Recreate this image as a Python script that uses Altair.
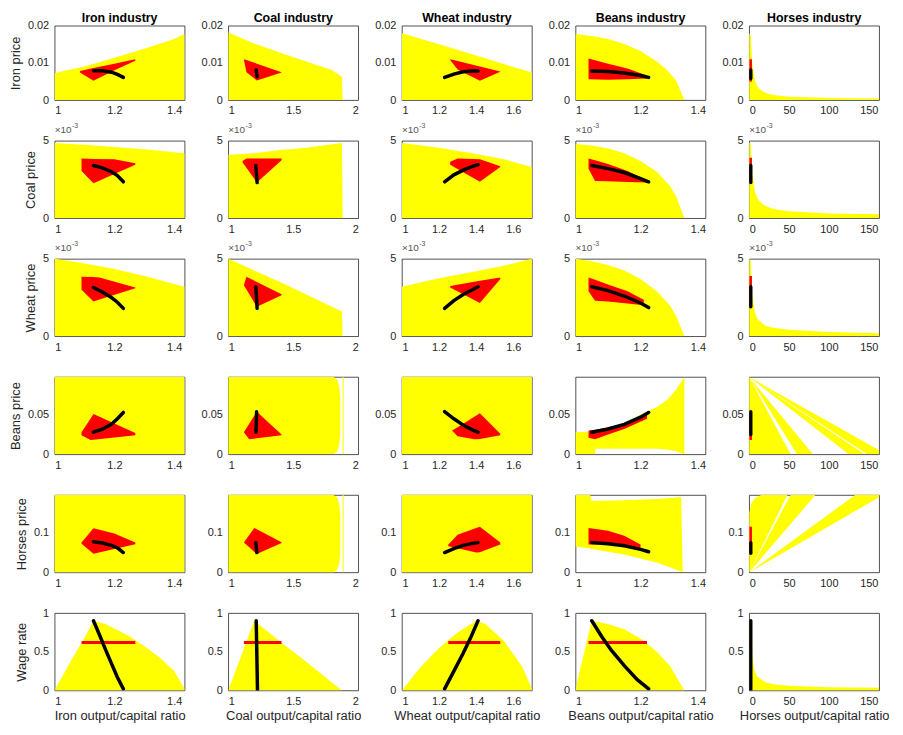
import altair as alt
import pandas as pd

FONT = "Liberation Sans"
YELLOW = "#FFFF00"
RED = "#FF0000"
BLACK = "#000000"

COL_TITLES = ["Iron industry", "Coal industry", "Wheat industry", "Beans industry", "Horses industry"]
ROW_TITLES = ["Iron price", "Coal price", "Wheat price", "Beans price", "Horses price", "Wage rate"]
X_TITLES = ["Iron output/capital ratio", "Coal output/capital ratio", "Wheat output/capital ratio",
            "Beans output/capital ratio", "Horses output/capital ratio"]
X_DOMAINS = [[1, 1.435], [1, 2], [1, 1.7], [1, 1.4], [0, 163]]
X_TICKS = [[1, 1.2, 1.4], [1, 1.5, 2], [1, 1.2, 1.4, 1.6], [1, 1.2, 1.4], [0, 50, 100, 150]]
# rows 2 and 3 are in units of 1e-3 (axis shows x10^-3)
Y_DOMAINS = [[0, 0.02], [0, 5], [0, 5], [0, 0.098], [0, 0.195], [0, 1]]
Y_TICKS = [[0, 0.01, 0.02], [0, 5], [0, 5], [0, 0.05], [0, 0.1], [0, 0.5, 1]]
EXP_ROWS = [1, 2]

# ---- Row 1: Iron price ----  areas: (x, upper, lower); lines: (x, y)
Y11 = [[(1, 0.0073, 0), (1.1, 0.0090, 0), (1.2, 0.0114, 0), (1.3, 0.0138, 0), (1.4, 0.0164, 0), (1.435, 0.0178, 0)]]
R11 = [[(1.085, 0.0078, 0.0074), (1.13, 0.0086, 0.0052), (1.2, 0.0098, 0.0080), (1.27, 0.0110, 0.0106)]]
K11 = [(1.13, 0.0079), (1.16, 0.0079), (1.19, 0.0075), (1.21, 0.0069), (1.23, 0.0061)]

Y12 = [[(1, 0.0182, 0), (1.2, 0.0152, 0), (1.4, 0.0127, 0), (1.6, 0.0104, 0), (1.8, 0.0080, 0), (1.875, 0.0062, 0), (1.88, 0, 0)]]
R12 = [[(1.12, 0.0110, 0.0109), (1.14, 0.0108, 0.0075), (1.22, 0.0098, 0.0053), (1.41, 0.0075, 0.0074)]]
K12 = [(1.215, 0.0081), (1.218, 0.0072), (1.222, 0.0063)]

Y13 = [[(1, 0.0180, 0), (1.2, 0.0150, 0), (1.4, 0.0120, 0), (1.6, 0.0089, 0), (1.7, 0.0074, 0)]]
R13 = [[(1.26, 0.0110, 0.0108), (1.30, 0.0105, 0.0082), (1.42, 0.0090, 0.0052), (1.53, 0.0077, 0.0076)]]
K13 = [(1.23, 0.0061), (1.28, 0.0070), (1.33, 0.0076), (1.38, 0.0078), (1.41, 0.0078)]

Y14 = [[(1, 0.0178, 0), (1.05, 0.0172, 0), (1.1, 0.0164, 0), (1.15, 0.0151, 0), (1.2, 0.0132, 0),
        (1.25, 0.0104, 0), (1.28, 0.0082, 0), (1.31, 0.0052, 0), (1.335, 0.0, 0)]]
R14 = [[(1.04, 0.0112, 0.0056), (1.1, 0.0098, 0.0055), (1.16, 0.0085, 0.0056), (1.22, 0.0066, 0.0058)]]
K14 = [(1.05, 0.0078), (1.1, 0.0077), (1.15, 0.0073), (1.2, 0.0066), (1.225, 0.0061)]

Y15 = [[(0, 0.0180, 0), (2, 0.0175, 0), (4, 0.0095, 0), (7, 0.0055, 0), (10, 0.0038, 0), (15, 0.0026, 0),
        (20, 0.0020, 0), (30, 0.0014, 0), (50, 0.0009, 0), (80, 0.0007, 0), (120, 0.0005, 0), (163, 0.0004, 0)]]
R15 = [[(0.3, 0.011, 0.005), (3.5, 0.011, 0.005)]]
K15 = [(2, 0.0081), (2, 0.0058)]

# ---- Row 2: Coal price (x1e-3) ----
Y21 = [[(1, 4.85, 0), (1.1, 4.75, 0), (1.2, 4.6, 0), (1.3, 4.45, 0), (1.435, 4.2, 0)]]
R21 = [[(1.09, 3.85, 3.05), (1.13, 3.83, 2.25), (1.2, 3.8, 2.85), (1.27, 3.55, 3.45)]]
K21 = [(1.13, 3.4), (1.16, 3.25), (1.19, 3.0), (1.21, 2.75), (1.23, 2.35)]

Y22 = [[(1, 4.1, 0), (1.2, 4.2, 0), (1.4, 4.4, 0), (1.6, 4.55, 0), (1.875, 4.85, 0), (1.88, 0, 0)]]
R22 = [[(1.11, 3.7, 3.6), (1.14, 3.85, 3.25), (1.22, 3.85, 2.3), (1.41, 3.85, 3.75)]]
K22 = [(1.212, 3.4), (1.217, 2.85), (1.222, 2.3)]

Y23 = [[(1, 4.85, 0), (1.2, 4.55, 0), (1.4, 4.15, 0), (1.55, 3.8, 0), (1.7, 3.3, 0)]]
R23 = [[(1.26, 3.65, 3.45), (1.3, 3.85, 3.18), (1.42, 3.8, 2.35), (1.53, 3.35, 3.3)]]
K23 = [(1.23, 2.35), (1.28, 2.8), (1.33, 3.1), (1.38, 3.35), (1.41, 3.45)]

Y24 = [[(1, 4.8, 0), (1.05, 4.7, 0), (1.1, 4.5, 0), (1.15, 4.2, 0), (1.2, 3.7, 0), (1.25, 3.0, 0),
        (1.29, 2.1, 0), (1.31, 1.4, 0), (1.335, 0, 0)]]
R24 = [[(1.04, 3.85, 3.2), (1.06, 3.75, 2.4), (1.1, 3.5, 2.38), (1.16, 3.05, 2.34), (1.22, 2.45, 2.3)]]
K24 = [(1.05, 3.4), (1.1, 3.2), (1.15, 2.95), (1.2, 2.55), (1.225, 2.35)]

Y25 = [[(0, 4.9, 0), (2, 4.8, 0), (4, 2.8, 0), (7, 1.8, 0), (10, 1.3, 0), (15, 1.0, 0), (20, 0.8, 0),
        (30, 0.6, 0), (50, 0.45, 0), (100, 0.3, 0), (163, 0.25, 0)]]
R25 = [[(0.3, 3.9, 2.3), (3.5, 3.9, 2.3)]]
K25 = [(2, 3.4), (2, 2.3)]

# ---- Row 3: Wheat price (x1e-3) ----
Y31 = [[(1, 5.0, 0), (1.1, 4.7, 0), (1.2, 4.35, 0), (1.3, 3.9, 0), (1.435, 3.2, 0)]]
R31 = [[(1.09, 3.85, 3.0), (1.13, 3.83, 2.25), (1.15, 3.8, 2.37), (1.27, 3.15, 3.1)]]
K31 = [(1.13, 3.15), (1.16, 2.85), (1.19, 2.5), (1.21, 2.2), (1.23, 1.8)]

Y32 = [[(1, 5.0, 0), (1.2, 4.25, 0), (1.44, 3.35, 0), (1.7, 2.3, 0), (1.875, 1.6, 0), (1.88, 0, 0)]]
R32 = [[(1.12, 3.3, 3.3), (1.14, 3.85, 3.02), (1.22, 3.51, 1.9), (1.41, 2.72, 2.65)]]
K32 = [(1.212, 3.2), (1.217, 2.5), (1.222, 1.8)]

Y33 = [[(1, 3.2, 0), (1.2, 3.75, 0), (1.4, 4.2, 0), (1.55, 4.55, 0), (1.7, 5.0, 0)]]
R33 = [[(1.26, 3.25, 3.15), (1.42, 3.58, 2.15), (1.53, 3.8, 3.7)]]
K33 = [(1.23, 1.8), (1.28, 2.3), (1.33, 2.7), (1.38, 3.0), (1.41, 3.2)]

Y34 = [[(1, 5.0, 0), (1.05, 4.85, 0), (1.1, 4.6, 0), (1.15, 4.25, 0), (1.2, 3.7, 0), (1.25, 2.9, 0),
        (1.29, 2.0, 0), (1.31, 1.3, 0), (1.335, 0, 0)]]
R34 = [[(1.04, 3.8, 2.9), (1.06, 3.65, 2.3), (1.1, 3.35, 2.25), (1.16, 2.9, 2.12), (1.21, 2.35, 2.0)]]
K34 = [(1.05, 3.2), (1.1, 2.95), (1.15, 2.6), (1.2, 2.15), (1.225, 1.85)]

Y35 = [[(0, 5.0, 0), (2, 4.9, 0), (4, 2.6, 0), (7, 1.6, 0), (10, 1.15, 0), (15, 0.9, 0), (20, 0.7, 0),
        (30, 0.55, 0), (50, 0.42, 0), (100, 0.28, 0), (163, 0.2, 0)]]
R35 = [[(0.3, 3.9, 1.9), (3.5, 3.9, 1.9)]]
K35 = [(2, 3.2), (2, 1.9)]

# ---- Row 4: Beans price ----
Y41 = [[(1, 0.098, 0), (1.435, 0.098, 0)]]
R41 = [[(1.09, 0.028, 0.024), (1.12, 0.045, 0.018), (1.13, 0.051, 0.0184), (1.27, 0.027, 0.024)]]
K41 = [(1.13, 0.028), (1.16, 0.032), (1.19, 0.038), (1.21, 0.045), (1.23, 0.053)]

Y42 = [[(1, 0.098, 0), (1.81, 0.098, 0), (1.84, 0.094, 0.004), (1.855, 0.085, 0.013), (1.862, 0.07, 0.028)],
       [(1.88, 0.098, 0), (1.888, 0.098, 0)]]
R42 = [[(1.12, 0.028, 0.028), (1.16, 0.0384, 0.019), (1.22, 0.054, 0.0202), (1.41, 0.025, 0.024)]]
K42 = [(1.218, 0.054), (1.216, 0.04), (1.213, 0.028)]

Y43 = [[(1, 0.098, 0), (1.7, 0.098, 0)]]
R43 = [[(1.27, 0.030, 0.030), (1.30, 0.0344, 0.023), (1.39, 0.0476, 0.019), (1.42, 0.052, 0.0195), (1.53, 0.026, 0.024)]]
K43 = [(1.23, 0.054), (1.28, 0.045), (1.33, 0.037), (1.38, 0.031), (1.41, 0.028)]

Y44 = [[(1, 0.028, 0), (1.05, 0.029, 0), (1.06, 0.030, 0), (1.061, 0.0305, 0.007), (1.1, 0.033, 0.007),
        (1.15, 0.039, 0.007), (1.2, 0.050, 0.007), (1.25, 0.060, 0.007), (1.28, 0.068, 0.006),
        (1.31, 0.082, 0.004), (1.335, 0.098, 0)]]
R44 = [[(1.04, 0.030, 0.021), (1.06, 0.031, 0.019), (1.1, 0.034, 0.025), (1.15, 0.039, 0.032), (1.22, 0.051, 0.045)]]
K44 = [(1.05, 0.028), (1.1, 0.032), (1.15, 0.038), (1.2, 0.047), (1.225, 0.053)]

Y45 = [[(0, 0.098, 0), (52, 0, 0)],
       [(0, 0.098, 0.098), (60, 0.0245, 0), (80, 0, 0)],
       [(0, 0.098, 0.098), (125, 0.0135, 0), (145, 0, 0)],
       [(0, 0.098, 0.098), (148, 0.0137, 0), (172, 0, 0)]]
R45 = [[(0.3, 0.055, 0.018), (3.5, 0.055, 0.018)]]
K45 = [(2, 0.054), (2, 0.025)]

# ---- Row 5: Horses price ----
Y51 = [[(1, 0.195, 0), (1.435, 0.195, 0)]]
R51 = [[(1.09, 0.075, 0.072), (1.13, 0.111, 0.047), (1.2, 0.098, 0.059), (1.27, 0.075, 0.071)]]
K51 = [(1.13, 0.077), (1.16, 0.074), (1.19, 0.068), (1.21, 0.062), (1.23, 0.050)]

Y52 = [[(1, 0.195, 0), (1.81, 0.195, 0), (1.84, 0.188, 0.007), (1.855, 0.17, 0.025), (1.862, 0.14, 0.055)],
       [(1.88, 0.195, 0), (1.888, 0.195, 0)]]
R52 = [[(1.12, 0.075, 0.075), (1.2, 0.112, 0.0518), (1.22, 0.1086, 0.046), (1.41, 0.076, 0.074)]]
K52 = [(1.212, 0.075), (1.216, 0.062), (1.22, 0.050)]

Y53 = [[(1, 0.195, 0), (1.7, 0.195, 0)]]
R53 = [[(1.25, 0.070, 0.066), (1.3, 0.095, 0.0607), (1.4, 0.112, 0.050), (1.42, 0.115, 0.0508), (1.53, 0.075, 0.070)]]
K53 = [(1.23, 0.050), (1.28, 0.060), (1.33, 0.068), (1.38, 0.073), (1.41, 0.075)]

Y54 = [[(1, 0.195, 0.065), (1.045, 0.195, 0.060), (1.05, 0.180, 0.059), (1.15, 0.182, 0.045),
        (1.25, 0.185, 0.025), (1.3, 0.188, 0.010), (1.325, 0.190, 0.002), (1.33, 0.0, 0.0)]]
R54 = [[(1.04, 0.112, 0.070), (1.1, 0.105, 0.070), (1.15, 0.092, 0.066), (1.2, 0.070, 0.058)]]
K54 = [(1.05, 0.075), (1.1, 0.072), (1.15, 0.067), (1.2, 0.058), (1.225, 0.052)]

Y55 = [[(0, 0.150, 0), (3, 0.175, 0.0122), (8, 0.188, 0.0325), (15, 0.195, 0.0609), (48, 0.195, 0.195)],
       [(0, 0, 0), (52, 0.195, 0.1222), (83, 0.195, 0.195)],
       [(0, 0, 0), (133, 0.195, 0.1544), (168, 0.195, 0.195)]]
R55 = [[(0.3, 0.115, 0.050), (3.5, 0.115, 0.050)]]
K55 = [(2, 0.075), (2, 0.048)]

# ---- Row 6: Wage rate ----
Y61 = [[(1, 0.0, 0), (1.05, 0.35, 0), (1.1, 0.68, 0), (1.13, 0.9, 0), (1.17, 0.86, 0), (1.2, 0.80, 0),
        (1.25, 0.70, 0), (1.3, 0.57, 0), (1.35, 0.43, 0), (1.4, 0.25, 0), (1.435, 0.02, 0)]]
L61 = [(1.09, 0.62), (1.27, 0.62)]
K61 = [(1.13, 0.9), (1.15, 0.72), (1.17, 0.53), (1.19, 0.35), (1.21, 0.17), (1.23, 0.02)]

Y62 = [[(1, 0.0, 0), (1.1, 0.45, 0), (1.2, 0.9, 0), (1.4, 0.63, 0), (1.6, 0.37, 0), (1.8, 0.1, 0), (1.875, 0, 0)]]
L62 = [(1.12, 0.62), (1.41, 0.62)]
K62 = [(1.215, 0.9), (1.22, 0.45), (1.225, 0.0)]

Y63 = [[(1, 0, 0), (1.1, 0.3, 0), (1.2, 0.55, 0), (1.3, 0.75, 0), (1.4, 0.9, 0), (1.45, 0.86, 0),
        (1.55, 0.64, 0), (1.65, 0.3, 0), (1.7, 0.02, 0)]]
L63 = [(1.25, 0.62), (1.53, 0.62)]
K63 = [(1.23, 0.02), (1.28, 0.25), (1.33, 0.48), (1.37, 0.68), (1.41, 0.9)]

Y64 = [[(1, 0, 0), (1.01, 0.2, 0), (1.03, 0.55, 0), (1.05, 0.9, 0), (1.1, 0.86, 0), (1.15, 0.79, 0),
        (1.2, 0.67, 0), (1.25, 0.5, 0), (1.29, 0.32, 0), (1.335, 0, 0)]]
L64 = [(1.04, 0.62), (1.22, 0.62)]
K64 = [(1.05, 0.9), (1.08, 0.7), (1.11, 0.52), (1.15, 0.32), (1.19, 0.14), (1.225, 0.02)]

Y65 = [[(0, 0.9, 0), (3, 0.9, 0), (4, 0.45, 0), (6, 0.28, 0), (10, 0.18, 0), (20, 0.11, 0), (30, 0.08, 0),
        (50, 0.06, 0), (100, 0.04, 0), (163, 0.035, 0)]]
L65 = [(0.5, 0.62), (3.5, 0.62)]
K65 = [(2, 0.9), (2, 0.0)]

PANELS = [
    [(Y11, R11, None, K11), (Y12, R12, None, K12), (Y13, R13, None, K13), (Y14, R14, None, K14), (Y15, R15, None, K15)],
    [(Y21, R21, None, K21), (Y22, R22, None, K22), (Y23, R23, None, K23), (Y24, R24, None, K24), (Y25, R25, None, K25)],
    [(Y31, R31, None, K31), (Y32, R32, None, K32), (Y33, R33, None, K33), (Y34, R34, None, K34), (Y35, R35, None, K35)],
    [(Y41, R41, None, K41), (Y42, R42, None, K42), (Y43, R43, None, K43), (Y44, R44, None, K44), (Y45, R45, None, K45)],
    [(Y51, R51, None, K51), (Y52, R52, None, K52), (Y53, R53, None, K53), (Y54, R54, None, K54), (Y55, R55, None, K55)],
    [(Y61, None, L61, K61), (Y62, None, L62, K62), (Y63, None, L63, K63), (Y64, None, L64, K64), (Y65, None, L65, K65)],
]

PANEL_W = 131
ROW_H = [75, 78, 78, 78, 78, 78]


def area_df(polys):
    rows = []
    for g, poly in enumerate(polys):
        for i, (x, y, y2) in enumerate(poly):
            rows.append({"g": g, "i": i, "x": x, "y": y, "y2": y2})
    return pd.DataFrame(rows)


def line_df(pts):
    return pd.DataFrame([{"i": i, "x": x, "y": y} for i, (x, y) in enumerate(pts)])


def make_panel(r, c):
    yellow, red, redline, black = PANELS[r][c]
    xs = alt.Scale(domain=X_DOMAINS[c], nice=False, zero=False)
    ys = alt.Scale(domain=Y_DOMAINS[r], nice=False, zero=False)
    if r == 5:
        xax = alt.Axis(values=X_TICKS[c], format="~r", title=X_TITLES[c])
    else:
        xax = alt.Axis(values=X_TICKS[c], format="~r", title=None)
    if c == 0:
        yax = alt.Axis(values=Y_TICKS[r], format="~r", title=ROW_TITLES[r])
    else:
        yax = alt.Axis(values=Y_TICKS[r], format="~r", title=None)
    X = alt.X("x:Q", scale=xs, axis=xax)
    Y = alt.Y("y:Q", scale=ys, axis=yax)

    layers = [alt.Chart(area_df(yellow)).mark_area(color=YELLOW, clip=True, opacity=1)
              .encode(x=X, y=Y, y2="y2:Q", detail="g:N")]
    if red is not None:
        layers.append(alt.Chart(area_df(red)).mark_area(color=RED, clip=True, opacity=1)
                      .encode(x=X, y=Y, y2="y2:Q", detail="g:N"))
    if redline is not None:
        layers.append(alt.Chart(line_df(redline)).mark_line(color=RED, strokeWidth=3, clip=True)
                      .encode(x=X, y=Y, order="i:Q"))
    layers.append(alt.Chart(line_df(black)).mark_line(color=BLACK, strokeWidth=3.5, strokeCap="round", clip=True)
                  .encode(x=X, y=Y, order="i:Q"))
    if r in EXP_ROWS:
        layers.append(alt.Chart(pd.DataFrame({"t": ["\u00d710"]})).mark_text(
            align="left", baseline="alphabetic", fontSize=10, font=FONT, color="#555555")
            .encode(x=alt.value(0), y=alt.value(-8), text="t:N"))
        layers.append(alt.Chart(pd.DataFrame({"t": ["-3"]})).mark_text(
            align="left", baseline="alphabetic", fontSize=7, font=FONT, color="#555555")
            .encode(x=alt.value(17.5), y=alt.value(-13), text="t:N"))
    if r == 0:
        layers.append(alt.Chart(pd.DataFrame({"t": [COL_TITLES[c]]})).mark_text(
            align="center", baseline="alphabetic", fontSize=12.5, fontWeight="bold", font=FONT, color="black")
            .encode(x=alt.value(PANEL_W / 2), y=alt.value(-4), text="t:N"))
    return alt.layer(*layers).properties(width=PANEL_W, height=ROW_H[r])


panels = [make_panel(r, c) for r in range(6) for c in range(5)]

chart = alt.concat(*panels, columns=5, spacing={"row": 41, "column": 44}, bounds="flush").properties(
    padding={"left": 1, "top": 0, "right": 5, "bottom": 0}
).configure_view(
    stroke="#262626", strokeWidth=0.8
).configure_axis(
    grid=False, domain=False, ticks=False,
    labelFont=FONT, labelFontSize=11, labelColor="#262626",
    titleFont=FONT, titleFontSize=13, titleFontWeight="normal", titleColor="#262626"
).configure_axisY(
    labelPadding=6, titlePadding=5
).configure_axisX(
    labelPadding=5, titlePadding=3
)

chart.save("out.html", embed_options={"renderer": "svg", "actions": False})
